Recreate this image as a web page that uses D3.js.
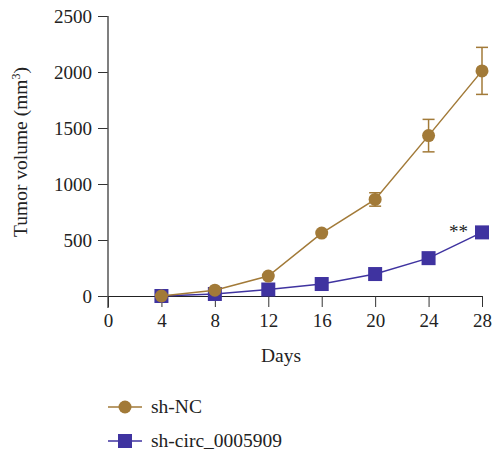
<!DOCTYPE html>
<html>
<head>
<meta charset="utf-8">
<script src="https://cdn.jsdelivr.net/npm/d3@7"></script>
<style>
  body { margin: 0; background: #fff; }
  text { font-family: "Liberation Serif", "DejaVu Serif", serif; }
</style>
</head>
<body>
<div id="chart"></div>
<script>
// data
var days = [4, 8, 12, 16, 20, 24, 28];
var ncValues = [0, 52, 178, 562, 862, 1432, 2010];
var ncErrors = [0, 0, 0, 0, 60, 145, 210];
var circValues = [0, 18, 58, 107, 196, 338, 568];
var xTicks = [0, 4, 8, 12, 16, 20, 24, 28];
var yTicks = [0, 500, 1000, 1500, 2000, 2500];

var brown = "#a27a38", purple = "#3f33a0";

var svg = d3.select("#chart")
  .append("svg")
  .attr("width", 494)
  .attr("height", 455);

var x = d3.scaleLinear().domain([0, 28]).range([108, 482]);
var y = d3.scaleLinear().domain([0, 2500]).range([296, 16]);

// y axis
var yAxis = svg.append("g")
  .attr("transform", "translate(108,0)")
  .call(d3.axisLeft(y).tickValues(yTicks).tickFormat(d3.format("d"))
    .tickSize(10).tickPadding(6).tickSizeOuter(0));
yAxis.select(".domain").remove();
yAxis.selectAll("line").attr("stroke", "#333");
yAxis.append("line")
  .attr("x1", 0).attr("x2", 0)
  .attr("y1", y(2500)).attr("y2", 308)
  .attr("stroke", "#555").attr("stroke-width", 1.5);
yAxis.selectAll("text").attr("fill", "#222").style("font-size", "19px");

// x axis
var xAxis = svg.append("g")
  .attr("transform", "translate(0," + y(0) + ")")
  .call(d3.axisBottom(x).tickValues(xTicks).tickSize(11).tickPadding(7).tickSizeOuter(0));
xAxis.select(".domain").attr("stroke", "#222").attr("stroke-width", 1.2);
xAxis.selectAll("line").attr("stroke", "#333");
xAxis.selectAll("text").attr("fill", "#222").style("font-size", "19px");

// axis titles
svg.append("text")
  .attr("transform", "translate(27,152) rotate(-90)")
  .attr("text-anchor", "middle")
  .attr("fill", "#222")
  .style("font-size", "19.5px")
  .html('Tumor volume (mm<tspan baseline-shift="super" font-size="12px">3</tspan>)');

svg.append("text")
  .attr("x", 281).attr("y", 362)
  .attr("text-anchor", "middle")
  .attr("fill", "#222")
  .style("font-size", "19.5px")
  .text("Days");

var line = d3.line()
  .x(function (d, i) { return x(days[i]) })
  .y(function (d) { return y(d) });

// sh-circ series
svg.append("path")
  .datum(circValues)
  .attr("fill", "none")
  .attr("stroke", purple)
  .attr("stroke-width", 1.5)
  .attr("d", line);

svg.selectAll("circSquares")
  .data(circValues)
  .enter()
  .append("rect")
  .attr("x", function (d, i) { return x(days[i]) - 7 })
  .attr("y", function (d) { return y(d) - 7 })
  .attr("width", 14)
  .attr("height", 14)
  .attr("fill", purple);

// sh-NC series
svg.append("path")
  .datum(ncValues)
  .attr("fill", "none")
  .attr("stroke", brown)
  .attr("stroke-width", 1.5)
  .attr("d", line);

var err = svg.append("g").attr("stroke", brown).attr("stroke-width", 1.5);
ncValues.forEach(function (v, i) {
  if (!ncErrors[i]) return;
  var cx = x(days[i]), top = y(v + ncErrors[i]), bot = y(v - ncErrors[i]);
  err.append("line").attr("x1", cx).attr("x2", cx).attr("y1", top).attr("y2", bot);
  err.append("line").attr("x1", cx - 6).attr("x2", cx + 6).attr("y1", top).attr("y2", top);
  err.append("line").attr("x1", cx - 6).attr("x2", cx + 6).attr("y1", bot).attr("y2", bot);
});

svg.selectAll("ncCircles")
  .data(ncValues)
  .enter()
  .append("circle")
  .attr("cx", function (d, i) { return x(days[i]) })
  .attr("cy", function (d) { return y(d) })
  .attr("r", 6.5)
  .attr("fill", brown);

// significance mark
svg.append("text")
  .attr("x", x(28) - 14)
  .attr("y", y(circValues[6]) + 6)
  .attr("text-anchor", "end")
  .attr("fill", "#222")
  .style("font-size", "19px")
  .text("**");

// legend
var legend = [
  { name: "sh-NC", color: brown, shape: "circle", y: 407 },
  { name: "sh-circ_0005909", color: purple, shape: "square", y: 441 }
];
legend.forEach(function (l) {
  var g = svg.append("g");
  g.append("line")
    .attr("x1", 108).attr("x2", 142)
    .attr("y1", l.y).attr("y2", l.y)
    .attr("stroke", l.color).attr("stroke-width", 1.5);
  if (l.shape == "circle") {
    g.append("circle").attr("cx", 125).attr("cy", l.y).attr("r", 6.5).attr("fill", l.color);
  } else {
    g.append("rect").attr("x", 118).attr("y", l.y - 7).attr("width", 14).attr("height", 14).attr("fill", l.color);
  }
  g.append("text")
    .attr("x", 151).attr("y", l.y + 6)
    .attr("fill", "#222")
    .style("font-size", "19.5px")
    .text(l.name);
});
</script>
</body>
</html>
